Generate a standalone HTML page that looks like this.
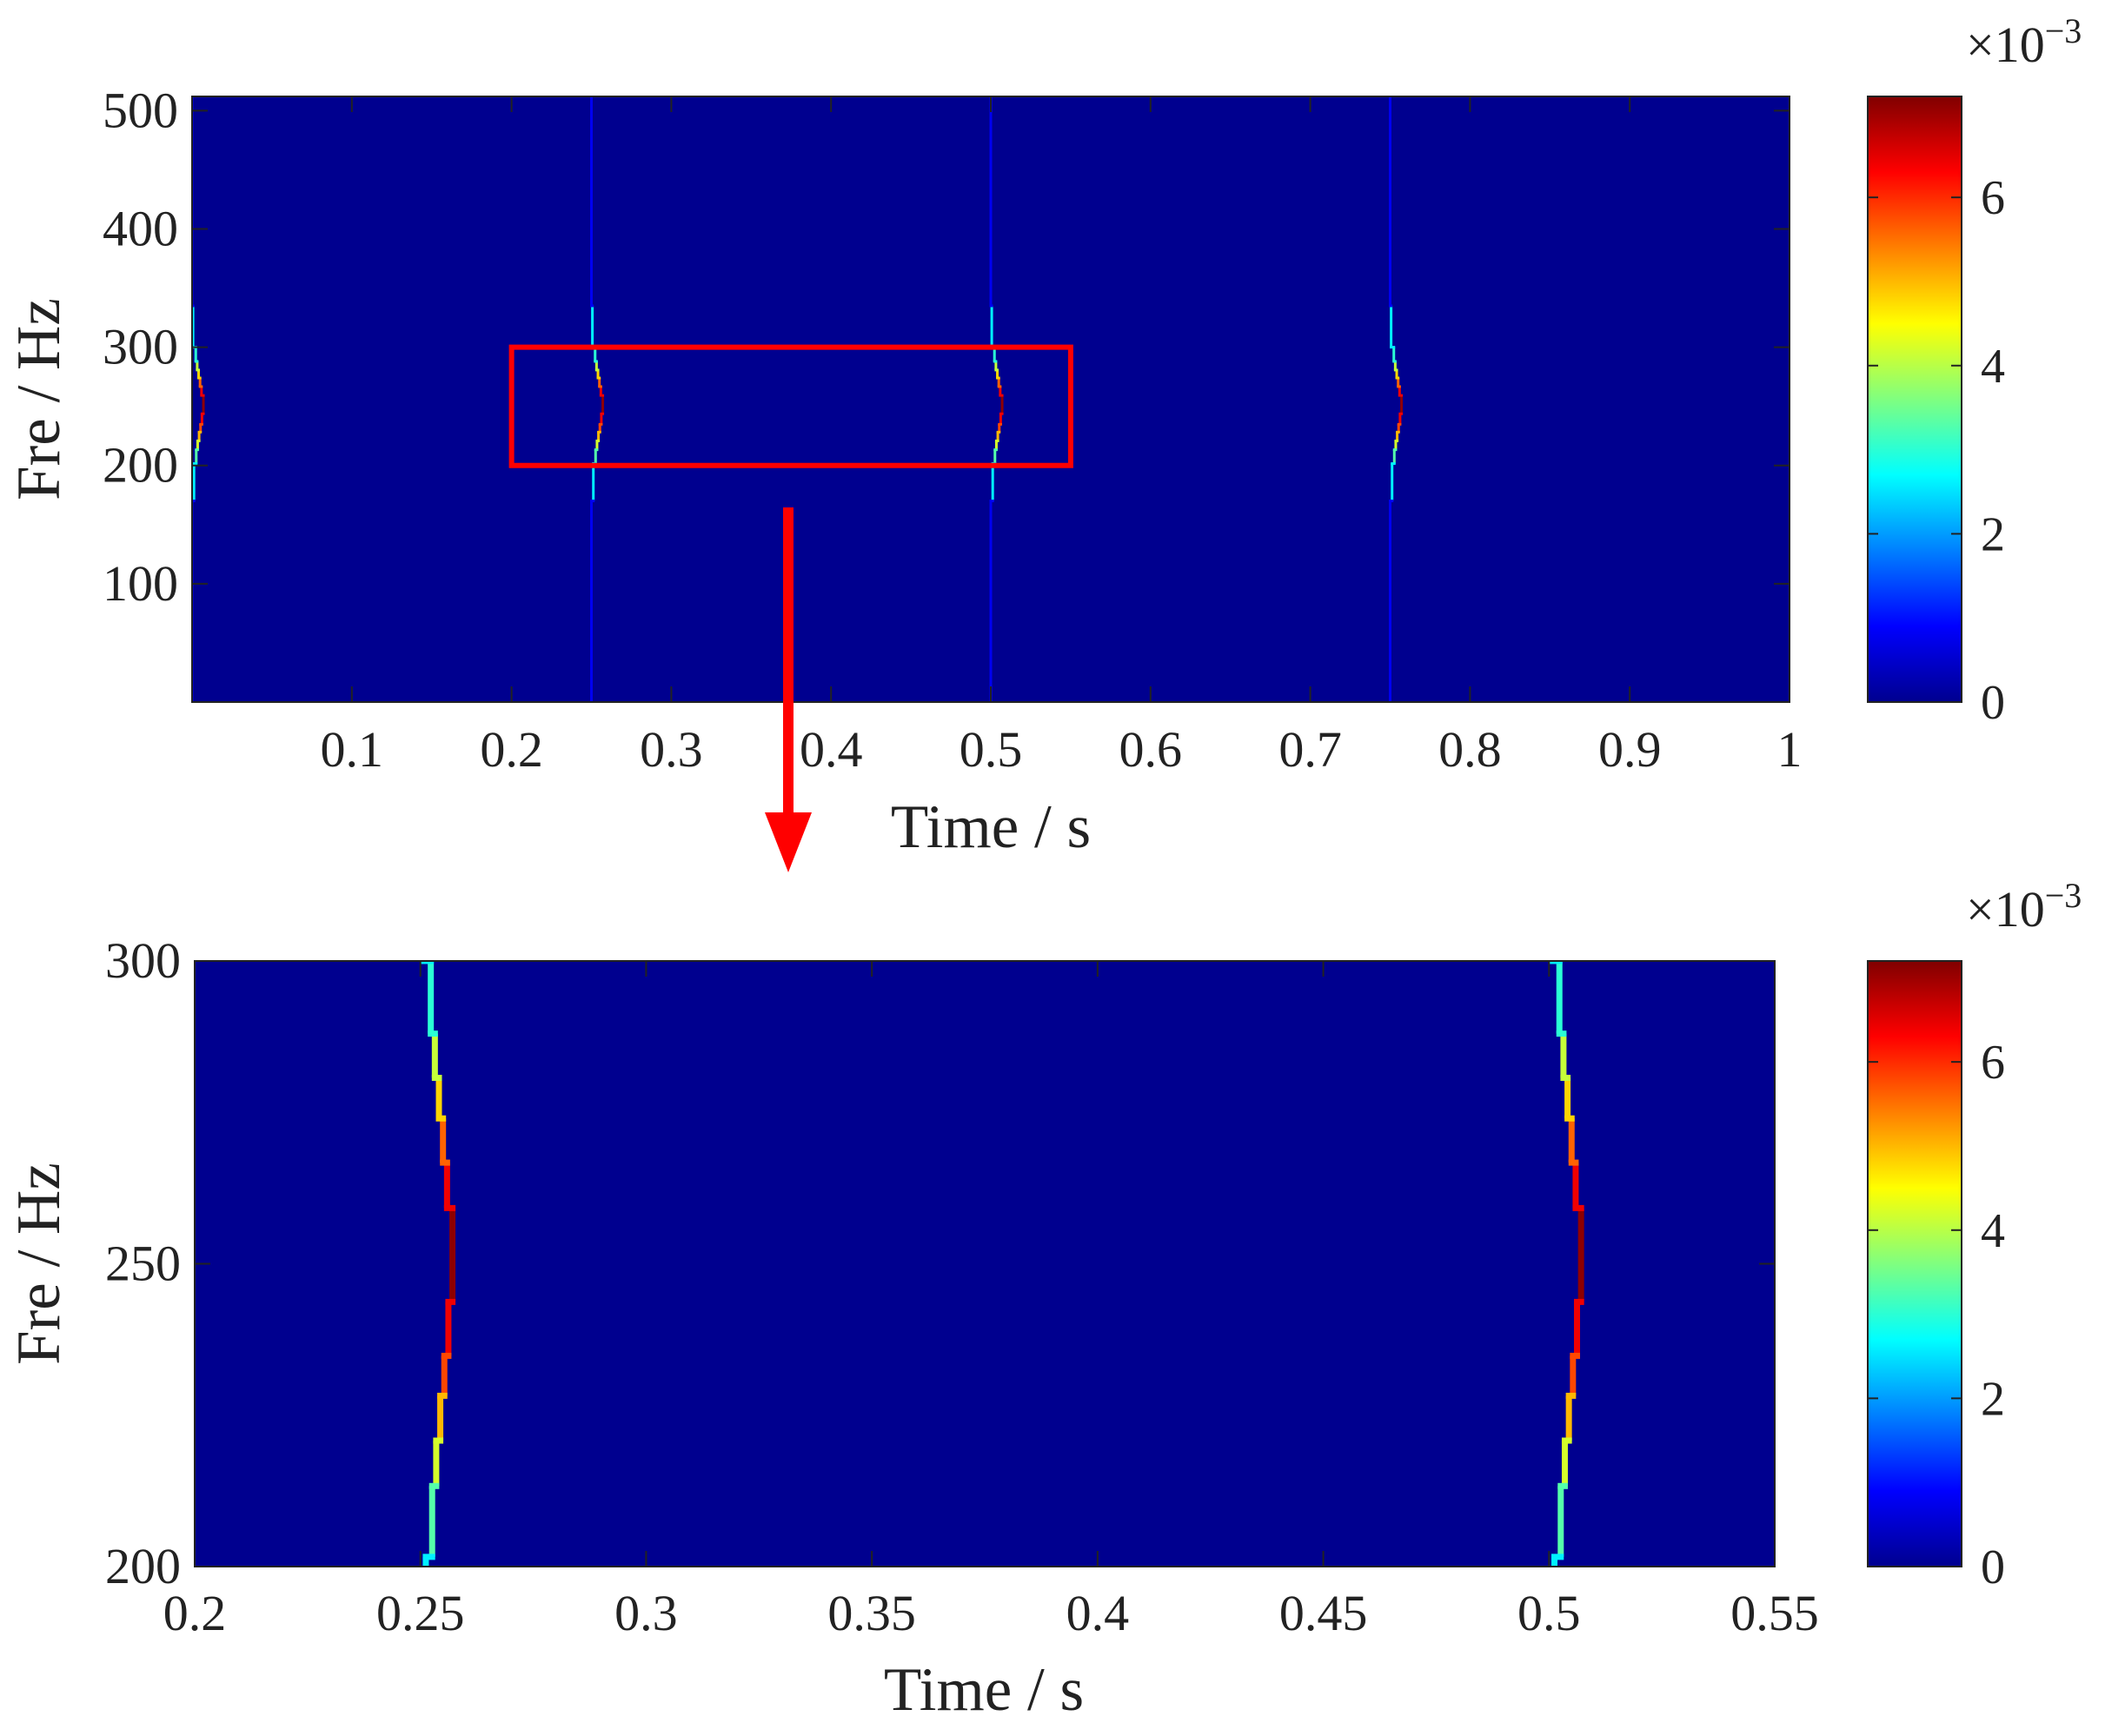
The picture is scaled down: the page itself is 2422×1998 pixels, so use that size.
<!DOCTYPE html>
<html><head><meta charset="utf-8"><style>
html,body{margin:0;padding:0;background:#fff;overflow:hidden;width:2422px;height:1998px}
svg{display:block}
text{font-family:"Liberation Serif",serif;fill:#222}
</style></head><body>
<svg id="fig" width="2422" height="1998" viewBox="0 0 2422 1998" xmlns="http://www.w3.org/2000/svg">
<defs>
<linearGradient id="jet" x1="0" y1="1" x2="0" y2="0">
<stop offset="0" stop-color="#00008f"/><stop offset="0.125" stop-color="#0000ff"/>
<stop offset="0.375" stop-color="#00ffff"/><stop offset="0.625" stop-color="#ffff00"/>
<stop offset="0.875" stop-color="#ff0000"/><stop offset="1" stop-color="#800000"/>
</linearGradient>
</defs>
</svg>
<script>
// data
const impulseTimes = [0, 0.25, 0.5, 0.75];
const segFLow  = [0,   170,  201.6, 213.3, 220.8, 228.2, 234.8, 243.7, 259.2, 266.7, 274,   280.7, 288,   300,   335];
const segFHigh = [170, 201.6,213.3, 220.8, 228.2, 234.8, 243.7, 259.2, 266.7, 274,   280.7, 288,   300,   335,   512];
const segDt    = [0,   0.0012,0.0026,0.0035,0.0044,0.0053,0.0062,0.0071,0.0059,0.0050,0.0041,0.0032,0.0023,0.0006,0];
const segVal   = [0.8, 2.6,  3.3,   4.2,   5.0,   5.8,   6.4,   7.1,   6.4,   5.6,   4.8,   4.1,   3.0,   2.6,   0.8];
const cbTicks = [0,2,4,6];
const topXTicks = [0.1,0.2,0.3,0.4,0.5,0.6,0.7,0.8,0.9,1];
const topXLabels = ["0.1","0.2","0.3","0.4","0.5","0.6","0.7","0.8","0.9","1"];
const topYTicks = [100,200,300,400,500];
const botXTicks = [0.2,0.25,0.3,0.35,0.4,0.45,0.5,0.55];
const botXLabels = ["0.2","0.25","0.3","0.35","0.4","0.45","0.5","0.55"];
const botYTicks = [200,250,300];
const cmax = 7.2;

const svg = document.getElementById('fig');
const NS = 'http://www.w3.org/2000/svg';
function mk(tag, attrs, parent){const e=document.createElementNS(NS,tag);for(const k in attrs)e.setAttribute(k,attrs[k]);(parent||svg).appendChild(e);return e;}
function jet(v){
  let t=Math.max(0,Math.min(1,v/cmax));
  const f=(x)=>Math.max(0,Math.min(1,x));
  const r=f(Math.min(4*t-1.5,-4*t+4.5)),g=f(Math.min(4*t-0.5,-4*t+3.5)),b=f(Math.min(4*t+0.5,-4*t+2.5));
  return `rgb(${Math.round(r*255)},${Math.round(g*255)},${Math.round(b*255)})`;
}
function panel(cfg){
  const {L,R,T,B,x0,x1,y0,y1,lw,name}=cfg;
  const sx=v=>L+(v-x0)/(x1-x0)*(R-L), sy=v=>B-(v-y0)/(y1-y0)*(B-T);
  const g=mk('g',{});
  
  
  const bg=mk('rect',{x:L,y:T,width:R-L,height:B-T,fill:'#00008f'},g);
  
  
  const clip=mk('clipPath',{id:name+'-clip'},g);
  mk('rect',{x:L,y:T,width:R-L,height:B-T},clip);
  const cg=mk('g',{'clip-path':`url(#${name}-clip)`},g);
  impulseTimes.forEach((t0,k)=>{
    for(let i=0;i<segFLow.length;i++){
      const x=sx(t0+segDt[i]);
      const ya=sy(segFHigh[i]), yb=sy(segFLow[i]);
      const r=mk('rect',{x:x-lw/2,y:ya,width:lw,height:yb-ya,fill:jet(segVal[i])},cg);
      
      
      if(i>0){
        const xp=sx(t0+segDt[i-1]);
        mk('rect',{x:Math.min(x,xp)-lw/2,y:yb-lw/2,width:Math.abs(x-xp)+lw,height:lw,fill:jet(Math.min(segVal[i],segVal[i-1]))},cg);
      }
    }
  });
  const box=mk('rect',{x:L,y:T,width:R-L,height:B-T,fill:'none',stroke:'#222','stroke-width':2},g);
  
  
  cfg.xt.forEach((v,i)=>{
    const x=sx(v);
    mk('line',{x1:x,y1:B,x2:x,y2:B-18,stroke:'#222','stroke-width':2},g);
    mk('line',{x1:x,y1:T,x2:x,y2:T+18,stroke:'#222','stroke-width':2},g);
    const tx=mk('text',{x:x,y:cfg.xly,'text-anchor':'middle','font-size':58},g);
    tx.textContent=cfg.xl[i];
    
    
  });
  cfg.yt.forEach(v=>{
    const y=sy(v);
    mk('line',{x1:L,y1:y,x2:L+18,y2:y,stroke:'#222','stroke-width':2},g);
    mk('line',{x1:R,y1:y,x2:R-18,y2:y,stroke:'#222','stroke-width':2},g);
    const tx=mk('text',{x:L-16,y:y+19,'text-anchor':'end','font-size':58},g);
    tx.textContent=String(v);
    
    
  });
  const xt=mk('text',{x:cfg.xtx,y:cfg.xty,'text-anchor':'middle','font-size':71},g);
  xt.textContent='Time / s';
  
  
  const yt=mk('text',{x:0,y:0,'text-anchor':'middle','font-size':71,transform:`translate(68,${(T+B)/2}) rotate(-90)`},g);
  yt.textContent='Fre / Hz';
  
  
  const cL=2149,cR=2257;
  const cb=mk('rect',{x:cL,y:T,width:cR-cL,height:B-T,fill:'url(#jet)',stroke:'#222','stroke-width':2},g);
  
  
  cbTicks.forEach(v=>{
    const y=B-v/cmax*(B-T);
    mk('line',{x1:cR,y1:y,x2:cR-12,y2:y,stroke:'#222','stroke-width':2},g);
    mk('line',{x1:cL,y1:y,x2:cL+12,y2:y,stroke:'#222','stroke-width':2},g);
    const tx=mk('text',{x:cR+22,y:y+19,'font-size':56},g);
    tx.textContent=String(v);
    
    
  });
  const ex=mk('text',{x:2262,y:T-40,'font-size':58},g);
  ex.textContent='×10';
  const sup=mk('tspan',{dy:-22,'font-size':40},ex);
  sup.textContent='−3';
  
  
  return {sx,sy,g};
}
const topPanel=panel({name:'top-panel',L:221,R:2059,T:111,B:808,x0:0,x1:1,y0:0,y1:512,lw:3,
  xt:topXTicks,xl:topXLabels,yt:topYTicks,xly:882,xtx:1140,xty:975});
panel({name:'bottom-panel',L:224,R:2042,T:1106,B:1803,x0:0.2,x1:0.55,y0:200,y1:300,lw:7,
  xt:botXTicks,xl:botXLabels,yt:botYTicks,xly:1876,xtx:1132,xty:1968});
const zr=mk('rect',{x:topPanel.sx(0.2),y:topPanel.sy(300),width:topPanel.sx(0.55)-topPanel.sx(0.2),height:topPanel.sy(200)-topPanel.sy(300),fill:'none',stroke:'#ff0000','stroke-width':6});


const al=mk('line',{x1:907,y1:584,x2:907,y2:945,stroke:'#ff0000','stroke-width':12});


const ah=mk('polygon',{points:'880,935 934,935 907,1004',fill:'#ff0000'});


</script>
</body></html>
